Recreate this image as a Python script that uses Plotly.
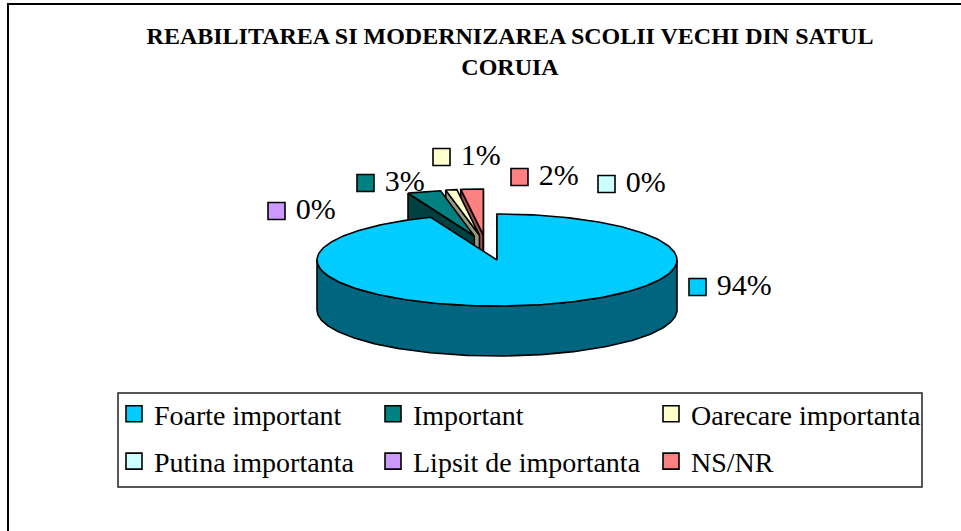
import math
import plotly.graph_objects as go

# ---------------- data ----------------
categories = ["Foarte important", "Important", "Oarecare importanta",
              "Putina importanta", "Lipsit de importanta", "NS/NR"]
values = [94, 3, 1, 0, 0, 2]
title_lines = ["REABILITAREA SI MODERNIZAREA SCOLII VECHI DIN SATUL", "CORUIA"]

# ---------------- styles / layout constants ----------------
top_colors = ["#00CCFF", "#008080", "#FFFFCC", "#CCFFFF", "#CC99FF", "#FF8080"]
side_colors = ["#006680", "#004040", "#99997A", "#7A9999", "#7A5C99", "#994D4D"]
exploded = [False, True, True, True, True, True]
label_xy = [(697.5, 287), (365.5, 183), (441.5, 157), (606.5, 184), (276.5, 211), (519.5, 177)]
legend_columns = [[0, 3], [1, 4], [2, 5]]
legend_col_x = [114, 373, 651]

W, H = 961, 531
CX, CY, RX, RY, DEPTH = 497, 260, 180, 46, 50
EXP_OX, EXP_EX, EXP_EY = -11, 42, 25
FONT = "Liberation Serif, Times New Roman, serif"
OUTLINE = dict(color="black", width=1.6)


def pt(theta, ox=0.0, oy=0.0, dz=0.0):
    t = math.radians(theta)
    return CX + ox + RX * math.sin(t), CY + oy - RY * math.cos(t) + dz


def arc(a, b, ox, oy, dz=0.0, n=80):
    steps = max(2, int(abs(b - a) / 360 * n * 4) + 2)
    return [pt(a + (b - a) * k / (steps - 1), ox, oy, dz) for k in range(steps)]


def poly_trace(points, color):
    xs = [p[0] for p in points] + [points[0][0]]
    ys = [p[1] for p in points] + [points[0][1]]
    return go.Scatter(x=xs, y=ys, mode="lines", fill="toself", fillcolor=color,
                      line=OUTLINE, showlegend=False, hoverinfo="skip")


fig = go.Figure()

total = float(sum(values))
bounds = []
cum = 0.0
for v in values:
    a = cum / total * 360
    cum += v
    b = cum / total * 360
    bounds.append((a, b))

# draw back (exploded small slices) to front (main slice)
for i in reversed(range(len(values))):
    if values[i] <= 0:
        continue
    a, b = bounds[i]
    ox = oy = 0.0
    if exploded[i]:
        mid = math.radians((a + b) / 2)
        ox = EXP_OX + EXP_EX * math.sin(mid)
        oy = -EXP_EY * math.cos(mid)
    apex = (CX + ox, CY + oy)
    apex_d = (CX + ox, CY + oy + DEPTH)
    # radial walls facing the viewer
    for theta, phi in ((a, a - 90), (b, b + 90)):
        if -math.cos(math.radians(phi)) > -1e-6:
            p = pt(theta, ox, oy)
            pd = pt(theta, ox, oy, DEPTH)
            fig.add_trace(poly_trace([apex, p, pd, apex_d], side_colors[i]))
    # front outer wall
    lo, hi = max(a, 90), min(b, 270)
    if hi > lo:
        pts = arc(lo, hi, ox, oy) + arc(hi, lo, ox, oy, DEPTH)
        fig.add_trace(poly_trace(pts, side_colors[i]))
    # top face
    fig.add_trace(poly_trace([apex] + arc(a, b, ox, oy), top_colors[i]))

# data labels (legend-key squares + percentages)
pct = [f" {round(v / total * 100)}%" for v in values]
fig.add_trace(go.Scatter(
    x=[p[0] for p in label_xy], y=[p[1] for p in label_xy],
    mode="markers+text", text=pct, textposition="middle right",
    textfont=dict(family=FONT, size=30, color="black"),
    marker=dict(symbol="square", size=17, color=top_colors, line=OUTLINE),
    showlegend=False, hoverinfo="skip"))

# legend entries (three columns, each its own legend)
legend_ids = ["legend", "legend2", "legend3"]
for col, idxs in enumerate(legend_columns):
    for i in idxs:
        fig.add_trace(go.Scatter(
            x=[None], y=[None], mode="markers", name=categories[i],
            marker=dict(symbol="square", size=16, color=top_colors[i], line=OUTLINE),
            legend=legend_ids[col], legendgroup=categories[i], showlegend=True))

legend_common = dict(
    orientation="v", xanchor="left", yanchor="top", y=1 - 389 / H,
    font=dict(family=FONT, size=28, color="black"), bgcolor="rgba(0,0,0,0)",
    borderwidth=0, traceorder="grouped", tracegroupgap=8, itemclick=False,
)

fig.update_layout(
    width=W, height=H,
    margin=dict(l=0, r=0, t=0, b=0),
    paper_bgcolor="white", plot_bgcolor="white",
    xaxis=dict(range=[0, W], visible=False, fixedrange=True),
    yaxis=dict(range=[H, 0], visible=False, fixedrange=True),
    title=dict(text="<br>".join(f"<b>{t}</b>" for t in title_lines),
               x=510 / W, xanchor="center", y=1 - 44 / H, yanchor="top",
               yref="container",
               font=dict(family=FONT, size=24, color="black")),
    legend=dict(x=legend_col_x[0] / W, **legend_common),
    legend2=dict(x=legend_col_x[1] / W, **legend_common),
    legend3=dict(x=legend_col_x[2] / W, **legend_common),
    shapes=[
        dict(type="rect", xref="x", yref="y", x0=8, y0=4, x1=W + 20, y1=H + 20,
             line=dict(color="black", width=2), fillcolor="rgba(0,0,0,0)", layer="below"),
        dict(type="rect", xref="x", yref="y", x0=118, y0=393, x1=922, y1=487,
             line=dict(color="#222", width=1.5), fillcolor="rgba(0,0,0,0)", layer="below"),
    ],
    showlegend=True,
)

fig.write_html("out.html", config={"displayModeBar": False},
               post_script="document.body.style.margin='0';")
